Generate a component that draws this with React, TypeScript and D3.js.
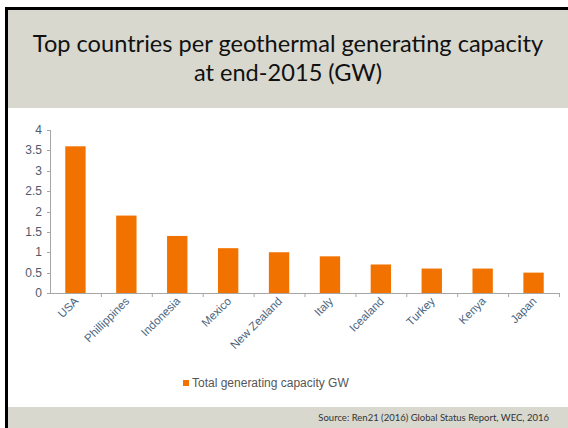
import React from "react";
import * as d3 from "d3";

const categories = ["USA", "Phillippines", "Indonesia", "Mexico", "New Zealand", "Italy", "Icealand", "Turkey", "Kenya", "Japan"];
const capacityGW = [3.6, 1.9, 1.4, 1.1, 1.0, 0.9, 0.7, 0.6, 0.6, 0.5];
const yTicks = [0, 0.5, 1, 1.5, 2, 2.5, 3, 3.5, 4];
const titleLines = ["Top countries per geothermal generating capacity", "at end-2015 (GW)"];
const legendLabel = "Total generating capacity GW";
const sourceText = "Source:  Ren21 (2016) Global Status Report, WEC, 2016";

export default function App() {
  const W = 568, H = 428;
  const x = d3.scaleBand<string>().domain(categories).range([50, 559]).paddingInner(0.6).paddingOuter(0.3);
  const y = d3.scaleLinear().domain([0, 4]).range([293, 130]);
  const band = (559 - 50) / categories.length;
  const orange = "#F27200";
  const tickColor = "#4d5b6b";
  const axisColor = "#a6a6a6";
  return (
    <svg width={W} height={H} style={{ position: "absolute", left: 0, top: 0 }}>
      <rect x={0} y={0} width={W} height={H} fill="#ffffff" />
      <rect x={8} y={10} width={W - 8} height={98} fill="#d8d8cf" />
      <rect x={8} y={407} width={W - 8} height={H - 407} fill="#d8d8cf" />
      <rect x={5} y={7} width={W - 5} height={3} fill="#000" />
      <rect x={5} y={7} width={3} height={H - 7} fill="#000" />
      {titleLines.map((t, i) => (
        <text key={i} x={288} y={52 + i * 29} textAnchor="middle" fontFamily="Lato, 'Open Sans', sans-serif" fontSize={23.6} fill="#111">
          {t}
        </text>
      ))}
      {/* y axis */}
      <line x1={50.5} x2={50.5} y1={y(4)} y2={y(0)} stroke={axisColor} />
      {yTicks.map((t) => (
        <g key={t}>
          <line x1={47} x2={50.5} y1={Math.round(y(t)) + 0.5} y2={Math.round(y(t)) + 0.5} stroke={axisColor} />
          <text x={42} y={y(t) + 4} textAnchor="end" fontFamily="'Liberation Sans', Arial, sans-serif" fontSize={12} fill={tickColor}>
            {d3.format("")(t)}
          </text>
        </g>
      ))}
      {/* x axis */}
      <line x1={50} x2={559} y1={y(0) + 0.5} y2={y(0) + 0.5} stroke={axisColor} />
      {categories.map((c, i) => (
        <line key={"t" + i} x1={50.5 + band * (i + 1)} x2={50.5 + band * (i + 1)} y1={y(0)} y2={y(0) + 4} stroke={axisColor} />
      ))}
      {categories.map((c, i) => (
        <rect key={c} x={x(c)!} y={y(capacityGW[i])} width={x.bandwidth()} height={y(0) - y(capacityGW[i])} fill={orange} />
      ))}
      {categories.map((c) => {
        const cx = x(c)! + x.bandwidth() / 2 + 1;
        const cy = y(0) + 6;
        return (
          <text key={"l" + c} transform={`translate(${cx},${cy}) rotate(-45)`} textAnchor="end" dy="0.35em" fontFamily="'Liberation Sans', Arial, sans-serif" fontSize={11.5} fill="#4a6580">
            {c}
          </text>
        );
      })}
      {/* legend */}
      <rect x={183} y={380} width={6} height={6} fill={orange} />
      <text x={192} y={387} fontFamily="'Liberation Sans', Arial, sans-serif" fontSize={12} fill="#555">
        {legendLabel}
      </text>
      <text x={549} y={421} textAnchor="end" fontFamily="Lato, 'Open Sans', sans-serif" fontSize={9.5} fill="#333">
        {sourceText}
      </text>
    </svg>
  );
}
